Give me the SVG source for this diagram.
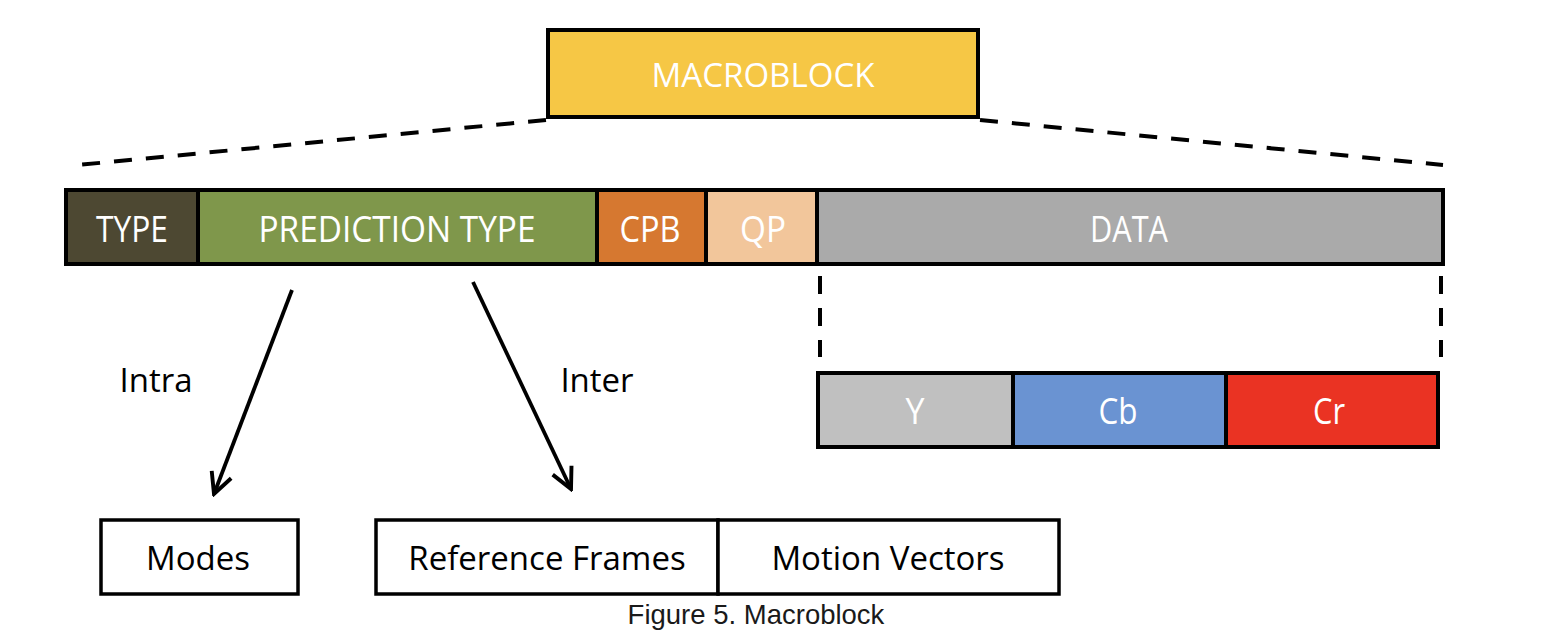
<svg xmlns="http://www.w3.org/2000/svg" width="1546" height="644" viewBox="0 0 1546 644">
<style>
.blk{stroke:#000;stroke-width:4}
.box{fill:#fff;stroke:#000;stroke-width:3.5}
.lbl{font-family:"Open Sans","Liberation Sans",sans-serif;fill:#fff;text-anchor:middle}
.txt{font-family:"Open Sans","Liberation Sans",sans-serif;fill:#000;font-size:33px;text-anchor:middle}
.dash{stroke:#000;stroke-width:4;stroke-dasharray:18 14;fill:none}
.arr{stroke:#000;stroke-width:3.8;fill:none;marker-end:url(#ah)}
</style>
<defs>
<marker id="ah" viewBox="0 0 20 20" refX="18" refY="10" markerWidth="26" markerHeight="26" markerUnits="userSpaceOnUse" orient="auto">
<path d="M2,2 L18,10 L2,18" fill="none" stroke="#000" stroke-width="3"/>
</marker>
</defs>
<rect width="1546" height="644" fill="#fff"/>
<g id="macroblock">
<rect x="548" y="30" width="430" height="87" fill="#F6C745" class="blk"/>
<text x="763" y="87" class="lbl" font-size="32" textLength="223" lengthAdjust="spacingAndGlyphs">MACROBLOCK</text>
</g>
<g id="connectors">
<line x1="546" y1="120" x2="78" y2="165" class="dash"/>
<line x1="980" y1="120" x2="1443" y2="165" class="dash"/>
<line x1="820" y1="276" x2="820" y2="357" class="dash"/>
<line x1="1441" y1="276" x2="1441" y2="357" class="dash"/>
<line x1="292" y1="290" x2="214" y2="494" class="arr"/>
<line x1="473" y1="282" x2="571" y2="489" class="arr"/>
</g>
<g id="type">
<rect x="66" y="190" width="132" height="74" fill="#4D4832" class="blk"/>
<text x="132" y="242" class="lbl" font-size="36" textLength="72" lengthAdjust="spacingAndGlyphs">TYPE</text>
</g>
<g id="prediction-type">
<rect x="198" y="190" width="399" height="74" fill="#7F974B" class="blk"/>
<text x="397" y="242" class="lbl" font-size="36" textLength="277" lengthAdjust="spacingAndGlyphs">PREDICTION TYPE</text>
</g>
<g id="cpb">
<rect x="597" y="190" width="109" height="74" fill="#D67830" class="blk"/>
<text x="650" y="242" class="lbl" font-size="36" textLength="61" lengthAdjust="spacingAndGlyphs">CPB</text>
</g>
<g id="qp">
<rect x="706" y="190" width="111" height="74" fill="#F2C69B" class="blk"/>
<text x="763" y="242" class="lbl" font-size="36" textLength="46" lengthAdjust="spacingAndGlyphs">QP</text>
</g>
<g id="data">
<rect x="817" y="190" width="626" height="74" fill="#AAAAAA" class="blk"/>
<text x="1129" y="242" class="lbl" font-size="36" textLength="78" lengthAdjust="spacingAndGlyphs">DATA</text>
</g>
<g id="y">
<rect x="818" y="373" width="195" height="74" fill="#C0C0C0" class="blk"/>
<text x="915" y="424" class="lbl" font-size="36" textLength="19" lengthAdjust="spacingAndGlyphs">Y</text>
</g>
<g id="cb">
<rect x="1013" y="373" width="213" height="74" fill="#6A93D2" class="blk"/>
<text x="1118" y="424" class="lbl" font-size="36" textLength="39" lengthAdjust="spacingAndGlyphs">Cb</text>
</g>
<g id="cr">
<rect x="1226" y="373" width="212" height="74" fill="#EA3323" class="blk"/>
<text x="1329" y="424" class="lbl" font-size="36" textLength="32" lengthAdjust="spacingAndGlyphs">Cr</text>
</g>
<g id="intra-label"><text x="156" y="392" class="txt" font-size="32">Intra</text></g>
<g id="inter-label"><text x="597" y="392" class="txt" font-size="32">Inter</text></g>
<g id="modes">
<rect x="101" y="520" width="197" height="74" class="box"/>
<text x="198" y="570" class="txt">Modes</text>
</g>
<g id="reference-frames">
<rect x="376" y="520" width="342" height="74" class="box"/>
<text x="547" y="570" class="txt">Reference Frames</text>
</g>
<g id="motion-vectors">
<rect x="718" y="520" width="341" height="74" class="box"/>
<text x="888" y="570" class="txt">Motion Vectors</text>
</g>
<g id="caption">
<text x="756" y="624" font-family="Liberation Sans, Arial, sans-serif" font-size="27.5" fill="#1a1a1a" text-anchor="middle">Figure 5. Macroblock</text>
</g>
</svg>
